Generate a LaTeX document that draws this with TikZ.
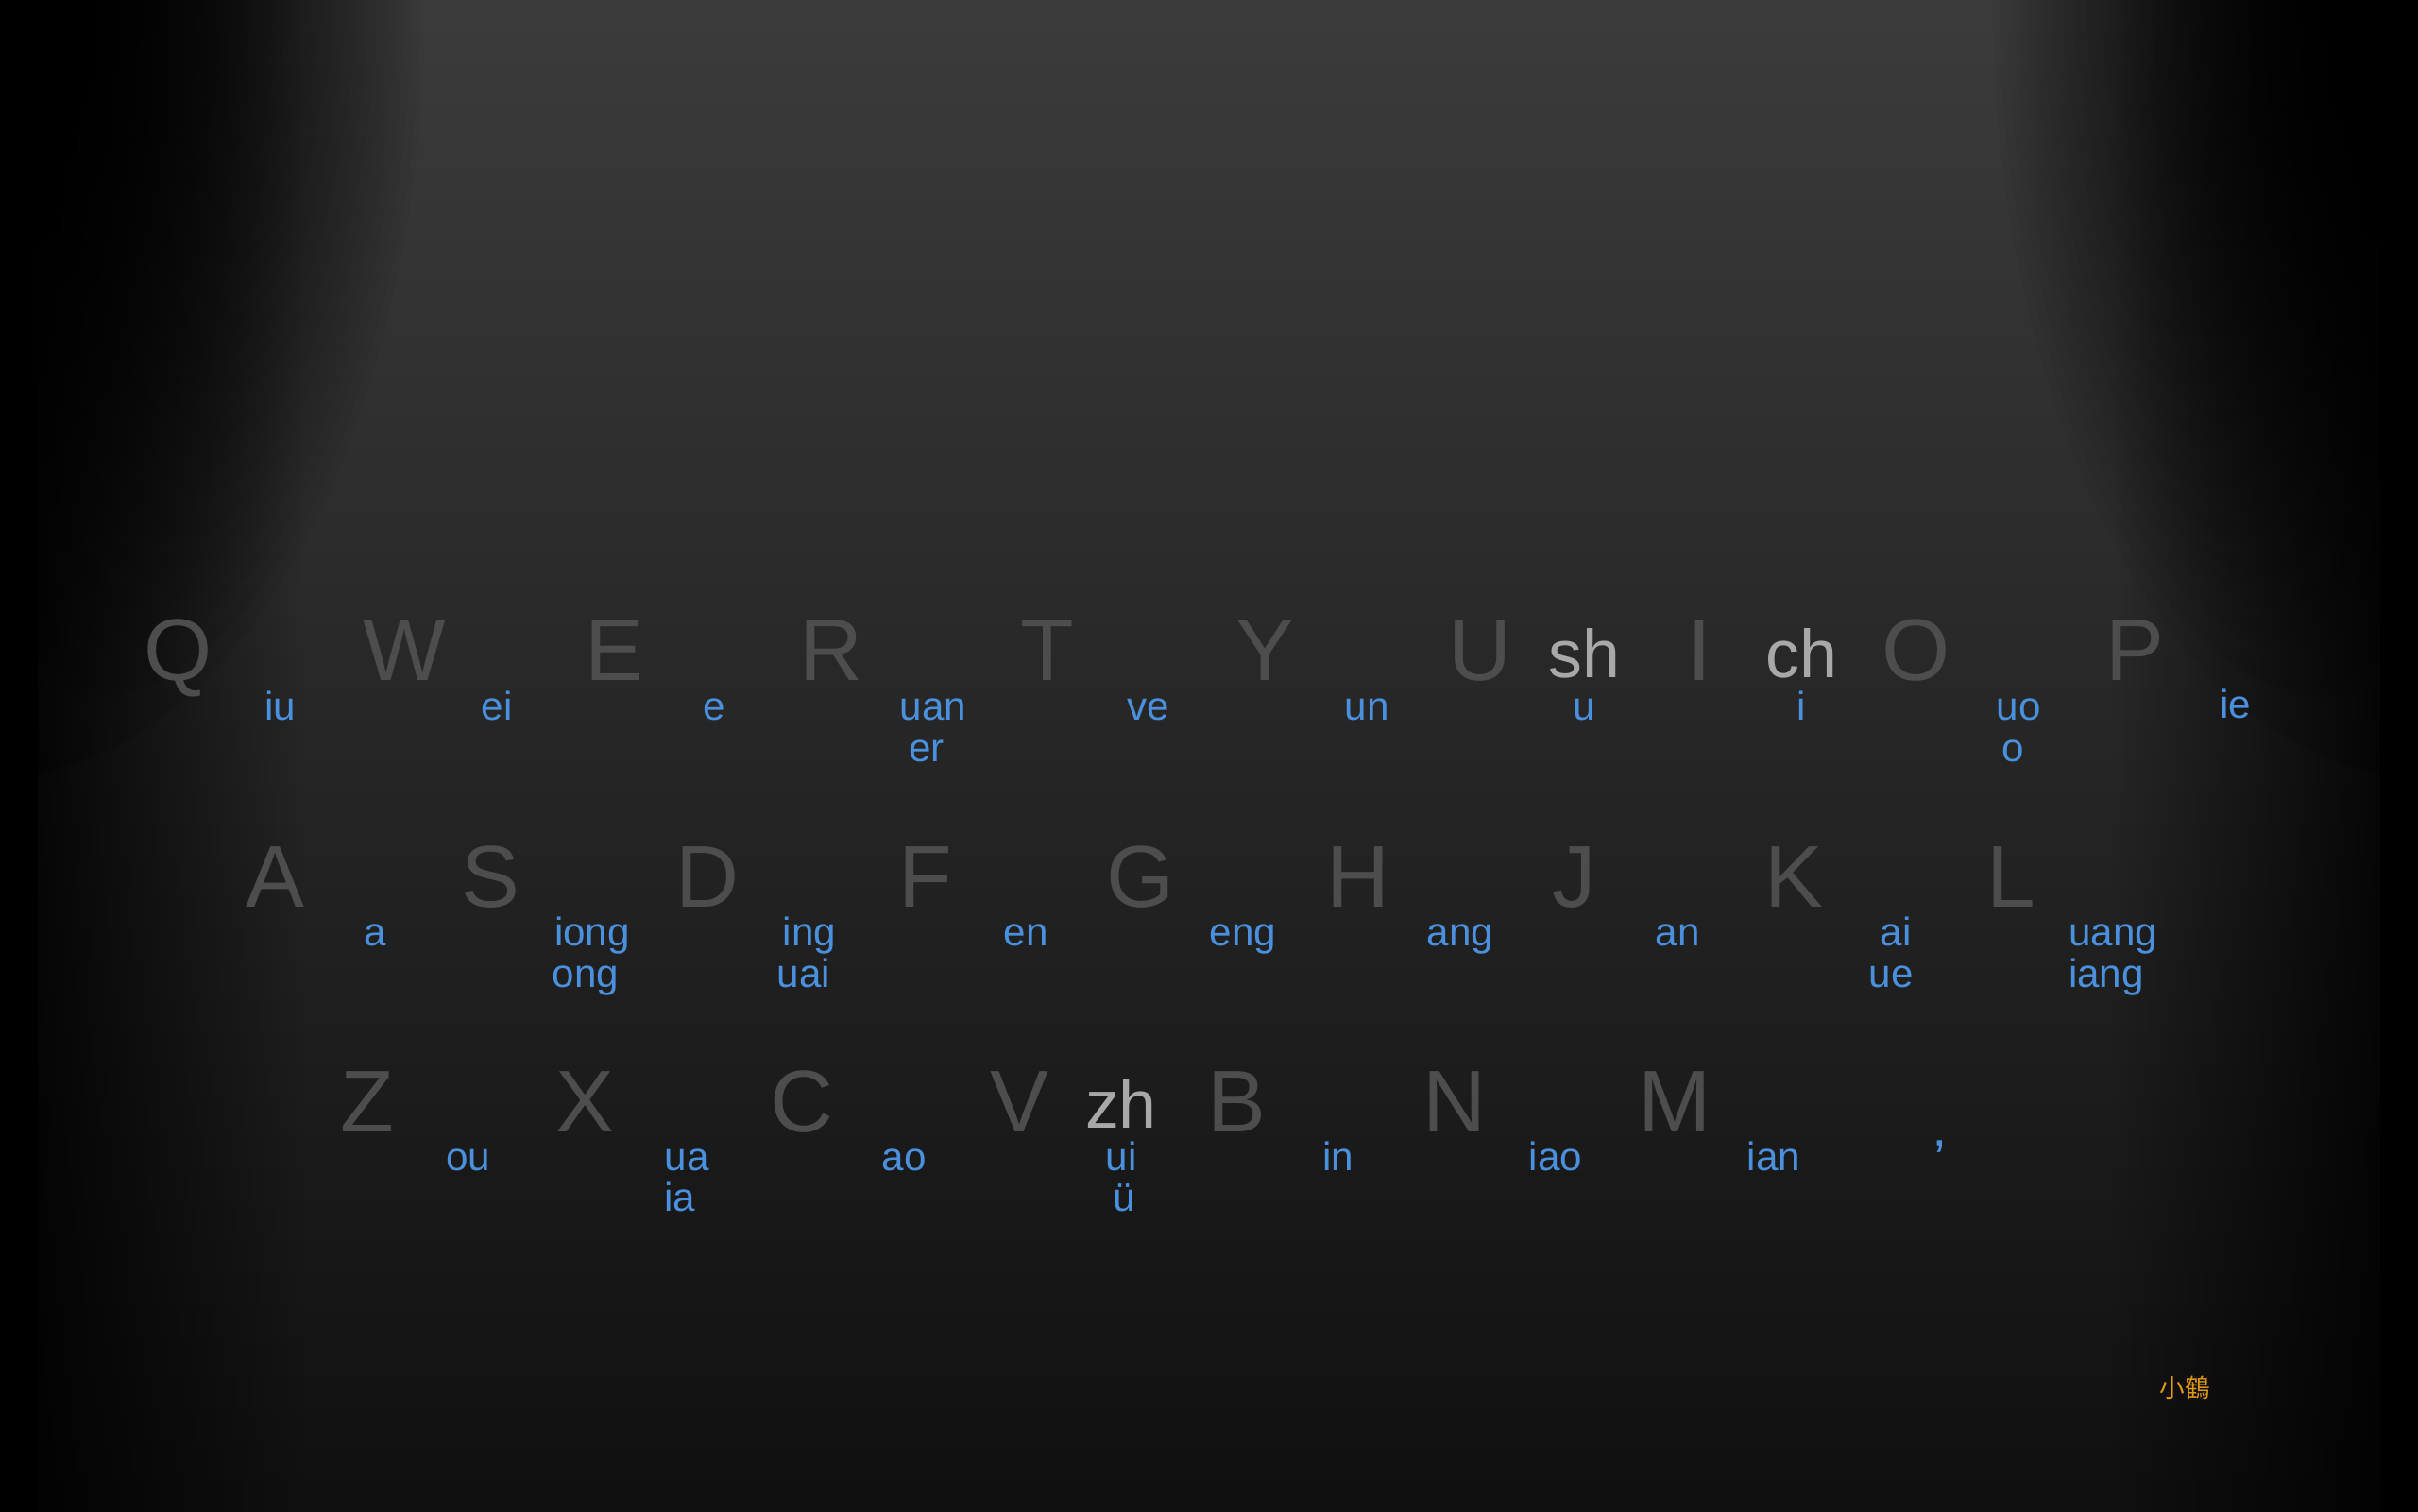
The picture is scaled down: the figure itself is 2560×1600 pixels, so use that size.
\documentclass[tikz,border=0pt]{standalone}
\usepackage{fontspec}
\setmainfont{Liberation Sans}
\newfontfamily\cjkfont{Noto Sans CJK TC}
\usetikzlibrary{fadings}
\definecolor{keygray}{HTML}{4D4D4D}
\definecolor{initgray}{HTML}{A8A8A8}
\definecolor{finblue}{HTML}{4A90DC}
\definecolor{signorange}{HTML}{E09A14}
\definecolor{bgtop}{HTML}{3C3C3C}
\definecolor{bgmid}{HTML}{222222}
\definecolor{bgbot}{HTML}{0F0F0F}
\tikzfading[name=sideL, left color=transparent!0, right color=transparent!100]
\tikzfading[name=sideR, left color=transparent!100, right color=transparent!0]
\tikzfading[name=cornf, inner color=transparent!0, outer color=transparent!100]
\tikzset{
  keyl/.style={font=\fontsize{66}{66}\selectfont, text=keygray, anchor=base, inner sep=0pt},
  initl/.style={font=\fontsize{51}{51}\selectfont, text=initgray, anchor=base, inner sep=0pt},
  finl/.style={font=\fontsize{30}{30}\selectfont, text=finblue, anchor=base, inner sep=0pt},
  aposl/.style={font=\fontsize{40}{40}\selectfont, text=finblue, anchor=base, inner sep=0pt},
  signl/.style={font=\cjkfont\fontsize{19}{19}\selectfont, text=signorange, anchor=center, inner sep=0pt}
}
\begin{document}
\begin{tikzpicture}[x=0.025cm,y=-0.025cm]
\useasboundingbox (0,0) rectangle (2560,1600);
% background
\begin{scope}
\clip (-5,-5) rectangle (2565,1605);
\shade[top color=bgtop, middle color=bgmid, bottom color=bgbot] (-20,-20) rectangle (2580,1620);
\fill[black, path fading=sideL] (-20,-20) rectangle (320,1620);
\fill[black, path fading=sideR] (2240,-20) rectangle (2580,1620);
\fill[black] (-20,-20) rectangle (40,1620);
\fill[black] (2520,-20) rectangle (2580,1620);
\foreach \k in {1,2}{
  \fill[black, path fading=cornf] (0,0) ellipse (450 and 820);
  \fill[black, path fading=cornf] (2560,0) ellipse (450 and 820);
}
\end{scope}
% row 1 keys
\foreach \l/\x in {Q/189,W/428,E/650,R/880,T/1109,Y/1339,U/1567,I/1799,O/2029,P/2260}
  \node[keyl] (k\l) at (\x,720) {\l};
% row 2 keys
\foreach \l/\x in {A/291,S/519,D/749,F/980,G/1208,H/1438,J/1667,K/1899,L/2129}
  \node[keyl] (k\l) at (\x,960) {\l};
% row 3 keys
\foreach \l/\x in {Z/389,X/619,C/849,V/1079,B/1309,N/1540,M/1773}
  \node[keyl] (k\l) at (\x,1198) {\l};
% initials
\node[initl] (ish) at (1677,717) {sh};
\node[initl] (ich) at (1907,717) {ch};
\node[initl] (izh) at (1187,1194) {zh};
% row 1 finals
\node[finl] (fiu) at (297,762) {iu};
\node[finl] (fei) at (526,762) {ei};
\node[finl] (fe) at (756,762) {e};
\node[finl] (fuan) at (988,762) {uan};
\node[finl] (fer) at (981,806) {er};
\node[finl] (fve) at (1216,762) {ve};
\node[finl] (fun) at (1447,762) {un};
\node[finl] (fu) at (1677,762) {u};
\node[finl] (fi) at (1907,762) {i};
\node[finl] (fuo) at (2137,762) {uo};
\node[finl] (fo) at (2131,806) {o};
\node[finl] (fie) at (2367,760) {ie};
% row 2 finals
\node[finl] (fa) at (397,1001) {a};
\node[finl] (fiong) at (627,1001) {iong};
\node[finl] (fong) at (620,1045) {ong};
\node[finl] (fing) at (857,1001) {ing};
\node[finl] (fuai) at (851,1045) {uai};
\node[finl] (fen) at (1086,1001) {en};
\node[finl] (feng) at (1316,1001) {eng};
\node[finl] (fang) at (1546,1001) {ang};
\node[finl] (fan) at (1776,1001) {an};
\node[finl] (fai) at (2007,1001) {ai};
\node[finl] (fue) at (2002,1045) {ue};
\node[finl] (fuang) at (2237,1001) {uang};
\node[finl] (fiang) at (2230,1045) {iang};
% row 3 finals
\node[finl] (fou) at (496,1239) {ou};
\node[finl] (fua) at (727,1239) {ua};
\node[finl] (fia) at (720,1282) {ia};
\node[finl] (fao) at (957,1239) {ao};
\node[finl] (fui) at (1187,1239) {ui};
\node[finl] (fv) at (1190,1282) {ü};
\node[finl] (fin) at (1417,1239) {in};
\node[finl] (fiao) at (1647,1239) {iao};
\node[finl] (fian) at (1878,1239) {ian};
\node[aposl] (fapos) at (2054,1246) {’};
% signature
\node[signl] (sign) at (2313,1469) {小鶴};
\end{tikzpicture}
\end{document}
